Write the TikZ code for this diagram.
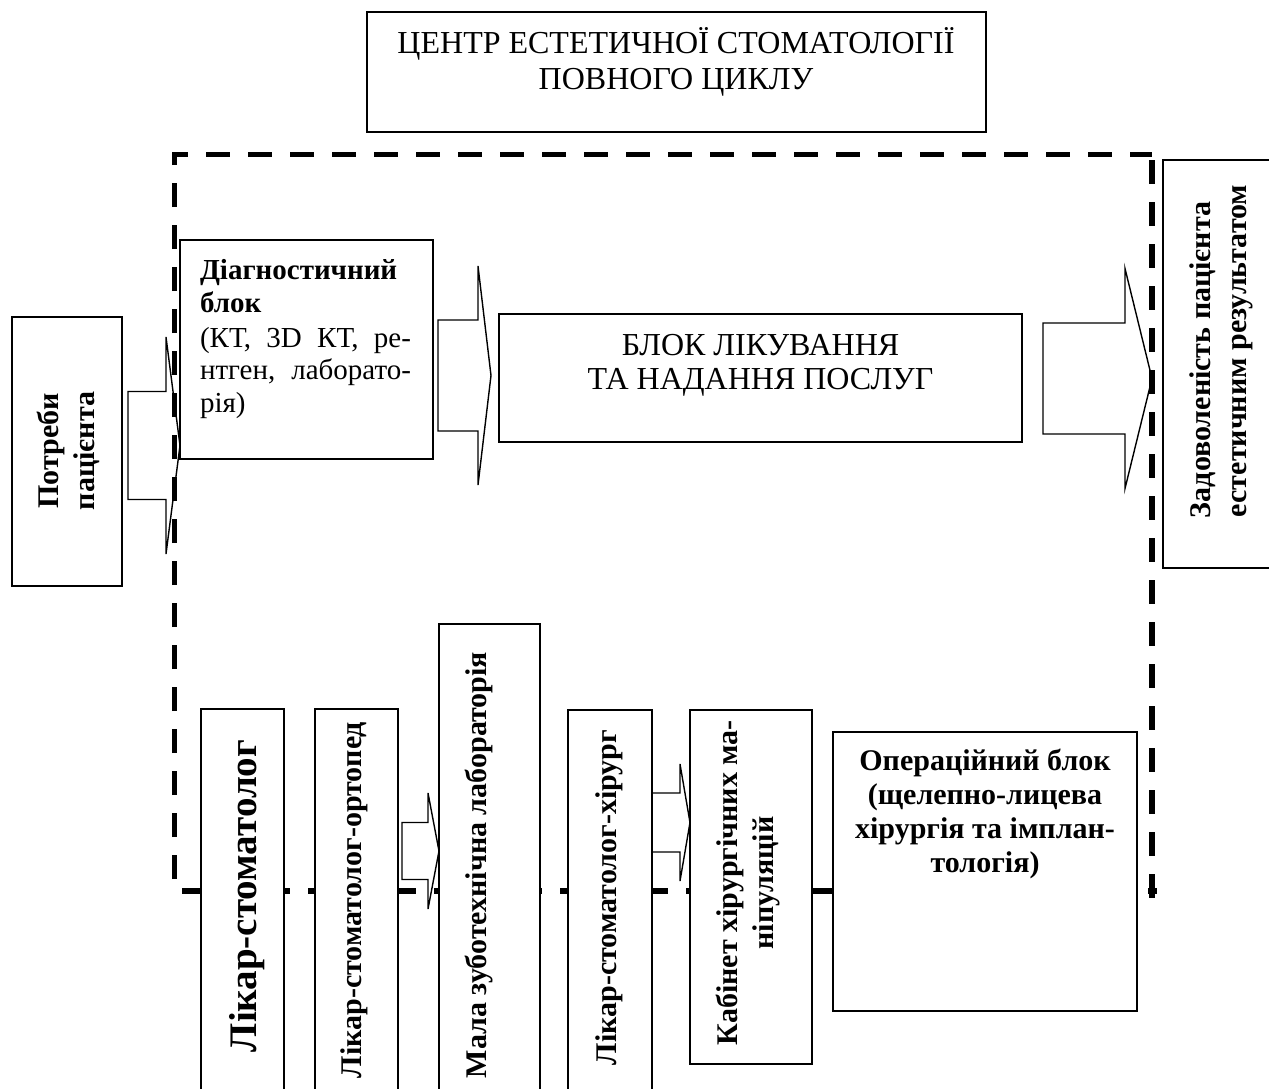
\documentclass[tikz,border=0pt]{standalone}
\usepackage{fontspec}
\setmainfont{Liberation Serif}
\newcommand\blockarrow[6]{%
  \draw[barrow] (#1,#4-#5) -- (#2,#4-#5) -- (#2,#4-#6) -- (#3,#4) -- (#2,#4+#6) -- (#2,#4+#5) -- (#1,#4+#5) -- cycle;}
\begin{document}
\begin{tikzpicture}[x=1pt,y=-1pt,
  box/.style={draw, line width=1.7pt, fill=white, anchor=north west, inner sep=0pt, outer sep=0pt},
  barrow/.style={draw, line width=1.4pt, line join=miter},
  frame/.style={line width=5.5pt, dash pattern=on 24pt off 18pt, line join=miter},
  tx/.style={inner sep=0pt, outer sep=0pt},
  reg/.style={tx, font=\fontsize{32}{36}\selectfont},
  dreg/.style={tx, font=\fontsize{29}{33}\selectfont},
  dbld/.style={tx, font=\fontsize{29}{33}\selectfont\bfseries},
  bld/.style={tx, font=\fontsize{30}{34}\selectfont\bfseries},
  big/.style={tx, font=\fontsize{39}{44}\selectfont\bfseries},
]
\useasboundingbox (0,0) rectangle (1269,1088);
\clip (0,0) rectangle (1269,1088);

% block arrows
\blockarrow{128}{166}{180}{445.5}{54}{108.5}
\blockarrow{438}{478}{491}{375.5}{55.5}{109.5}
\blockarrow{1043}{1125}{1152}{378.5}{55.5}{110}
\blockarrow{402}{428}{439}{851}{28.5}{58}
\blockarrow{652}{680}{690}{822.5}{29.5}{58.5}

% dashed frame
\draw[frame] (174.5,879) -- (174.5,154.5) -- (1152,154.5);
\draw[frame] (1152,160) -- (1152,898);
\draw[frame] (182,891) -- (1157,891);

% boxes
\node[box, minimum width=619pt, minimum height=120pt] (title) at (367,12) {};
\node[box, minimum width=110pt, minimum height=269pt] (needs) at (12,317) {};
\node[box, minimum width=253pt, minimum height=219pt] (diag) at (180,240) {};
\node[box, minimum width=523pt, minimum height=128pt] (treat) at (499,314) {};
\node[box, minimum width=117pt, minimum height=408pt] (satis) at (1163,160) {};
\node[box, minimum width=83pt, minimum height=391pt] (doc) at (201,709) {};
\node[box, minimum width=83pt, minimum height=391pt] (orth) at (315,709) {};
\node[box, minimum width=101pt, minimum height=476pt] (lab) at (439,624) {};
\node[box, minimum width=84pt, minimum height=390pt] (surg) at (568,710) {};
\node[box, minimum width=122pt, minimum height=354pt] (cab) at (690,710) {};
\node[box, minimum width=304pt, minimum height=279pt] (oper) at (833,732) {};

% texts
\node[reg, anchor=base] (title1) at (676,53) {ЦЕНТР ЕСТЕТИЧНОЇ СТОМАТОЛОГІЇ};
\node[reg, anchor=base] (title2) at (676,89) {ПОВНОГО ЦИКЛУ};

\node[reg, anchor=base] (treat1) at (760.5,355) {БЛОК ЛІКУВАННЯ};
\node[reg, anchor=base] (treat2) at (760.5,389) {ТА НАДАННЯ ПОСЛУГ};

\node[dbld, anchor=base west] (diag1) at (200,279) {Діагностичний};
\node[dbld, anchor=base west] (diag2) at (200,312) {блок};
\node[dreg, anchor=base west] (diag3) at (200,347) {\hbox to 211pt{(КТ,\hfill 3D\hfill КТ,\hfill ре-}};
\node[dreg, anchor=base west] (diag4) at (200,379) {\hbox to 211pt{нтген,\hfill лаборато-}};
\node[dreg, anchor=base west] (diag5) at (200,412) {рія)};

\node[bld, anchor=base] (oper1) at (985,770) {Операційний блок};
\node[bld, anchor=base] (oper2) at (985,804) {(щелепно-лицева};
\node[bld, anchor=base] (oper3) at (985,838) {хірургія та імплан-};
\node[bld, anchor=base] (oper4) at (985,872) {тологія)};

\node[bld, rotate=90, anchor=base] (needs1) at (58,451) {Потреби};
\node[bld, rotate=90, anchor=base] (needs2) at (94,451) {пацієнта};

\node[bld, rotate=90, anchor=base west] (satis1) at (1210,518) {Задоволеність пацієнта};
\node[bld, rotate=90, anchor=base west] (satis2) at (1246,517) {естетичним результатом};

\node[big, rotate=90, anchor=base west] (doct) at (256,1052) {Лікар-стоматолог};
\node[bld, rotate=90, anchor=base west] (ortht) at (361,1078) {Лікар-стоматолог-ортопед};
\node[bld, rotate=90, anchor=base west] (labt) at (486,1078) {Мала зуботехнічна лабораторія};
\node[bld, rotate=90, anchor=base west] (surgt) at (616,1065) {Лікар-стоматолог-хірург};
\node[bld, rotate=90, anchor=base west] (cab1) at (737,1045) {Кабінет хірургічних ма-};
\node[bld, rotate=90, anchor=base] (cab2) at (773,883) {ніпуляцій};
\end{tikzpicture}
\end{document}
